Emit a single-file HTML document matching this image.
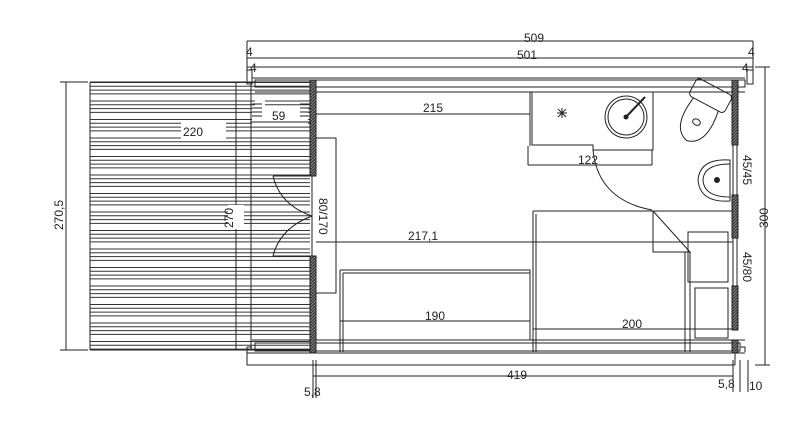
<!DOCTYPE html>
<html><head><meta charset="utf-8"><style>
html,body{margin:0;padding:0;background:#fff;}
svg{display:block;}
text{font-family:"Liberation Sans",sans-serif;font-size:12px;fill:#222;}
</style></head><body>
<svg width="800" height="423" viewBox="0 0 800 423" xmlns="http://www.w3.org/2000/svg">
<defs>
<pattern id="h" width="3" height="3" patternUnits="userSpaceOnUse"><rect width="3" height="3" fill="#777"/><path d="M0 3L3 0" stroke="#333" stroke-width="1"/></pattern>
<pattern id="deck" x="0" y="82" width="10" height="18.5" patternUnits="userSpaceOnUse">
<path d="M0 0.5H10M0 4.3H10M0 8.1H10M0 11.9H10" stroke="#333" stroke-width="1"/>
</pattern>
</defs>
<g fill="none" stroke="#222" stroke-width="1">
<rect x="90" y="82" width="220" height="268" fill="url(#deck)" stroke="none"/>
<line x1="90" y1="82" x2="90" y2="350"/>
<line x1="90" y1="82" x2="310" y2="82"/>
<line x1="90" y1="350" x2="310" y2="350"/>
<line x1="236" y1="82" x2="236" y2="350"/>
<line x1="251" y1="82" x2="251" y2="350"/>
<rect x="255" y="100" width="10" height="24" fill="#fff" stroke="none"/>
<rect x="252" y="106" width="56" height="19" fill="#fff" stroke="none"/>
<path d="M252 104H262M252 108H262M252 112H262M252 116H262M300 104H310M300 108H310M300 112H310M300 116H310"/>
<line x1="251" y1="122" x2="310" y2="122"/>
<rect x="181" y="121" width="45" height="18" fill="#fff" stroke="none"/>
<rect x="228" y="205" width="16" height="24" fill="#fff" stroke="none"/>
<path d="M66 82V350M60 82H88M60 350H88"/>
<path d="M247 41H753M247 58H753M247 67H753M247 41V75M753 41V75"/>
<path d="M247 70H252V84H247ZM747 70H753V84H747Z"/>
<path d="M252 78H745M255 80H745V87H255ZM255 92H745"/>
<path d="M252 340H745M255 343H740V351H255ZM247 353H745M247 347V365H735M735 347V365M247 347H252M740 347H745V352"/>
<rect x="310" y="80" width="6" height="96" fill="url(#h)"/>
<rect x="310" y="256" width="6" height="97" fill="url(#h)"/>
<path d="M273 176H312M273 256H312M273 176Q280 205 312 216M273 256Q280 228 312 216"/>
<line x1="312" y1="176" x2="312" y2="256"/>
<path d="M316 138H336V293H316"/>
<rect x="732" y="80" width="6" height="65" fill="url(#h)"/>
<rect x="732" y="195" width="6" height="43" fill="url(#h)"/>
<rect x="732" y="286" width="6" height="44" fill="url(#h)"/>
<rect x="732" y="340" width="6" height="13" fill="url(#h)"/>
<path d="M733 145V195M737 145V195M733 238V286M737 238V286"/>
<path d="M765 67V365M755 67H770M755 365H770M748 360V392M733 360V392"/>
<path d="M313 376H733M313 360V398M316 360V398M740 360V392"/>
<path d="M316 114H530M530 92V146"/>
<path d="M532 92V145H593V150H653V92M528 146V165M652 150V165M528 165H652"/>
<circle cx="626" cy="117" r="21"/><circle cx="626" cy="117" r="18"/>
<path d="M626 117L645 97" stroke-width="2"/>
<circle cx="626" cy="117" r="2" fill="#222"/>
<path d="M557 113H567M562 108V118M558 109L566 117M566 109L558 117"/>
<path d="M593 150Q598 200 652 210"/>
<g transform="rotate(28 704 108)">
<rect x="684" y="84" width="40" height="20" rx="4"/>
<path d="M690 104Q684 140 704 145Q724 140 718 104"/>
<ellipse cx="704" cy="124" rx="4" ry="3"/>
</g>
<path d="M730 160Q700 158 698 180Q700 203 730 201Z"/>
<path d="M730 164Q704 164 703 180Q704 197 730 197"/>
<circle cx="717" cy="180" r="2.5" fill="#222"/>
<path d="M533 211H732M533 211V352M536 214V352"/>
<path d="M653 211V252H690L653 211M690 252V352M685 252V352"/>
<rect x="688" y="232" width="40" height="50"/>
<rect x="695" y="288" width="33" height="50"/>
<path d="M316 242H733"/>
<path d="M340 270H530V340M340 270V352M343 273H530M343 273V352"/>
<path d="M340 321H530M533 329H733"/>
</g>
<text x="524" y="42">509</text>
<text x="517" y="59">501</text>
<text x="246" y="56" font-size="10">4</text>
<text x="250" y="72" font-size="10">4</text>
<text x="748" y="56" font-size="10">4</text>
<text x="742" y="72" font-size="10">4</text>
<text x="272" y="120">59</text>
<text x="183" y="136" font-size="17">220</text>
<text x="423" y="112">215</text>
<text x="578" y="164">122</text>
<text x="408" y="240">217,1</text>
<text x="425" y="320">190</text>
<text x="622" y="328">200</text>
<text x="507" y="379">419</text>
<text x="304" y="396">5,8</text>
<text x="718" y="388">5,8</text>
<text x="749" y="390" font-size="11">10</text>
<text transform="translate(63,230) rotate(-90)">270,5</text>
<text transform="translate(233,228) rotate(-90)">270</text>
<text transform="translate(319,198) rotate(90)" font-size="14">80/170</text>
<text transform="translate(768,228) rotate(-90)">300</text>
<text transform="translate(743,155) rotate(90)" font-size="10">45/45</text>
<text transform="translate(743,252) rotate(90)" font-size="10">45/80</text>
</svg>
</body></html>
